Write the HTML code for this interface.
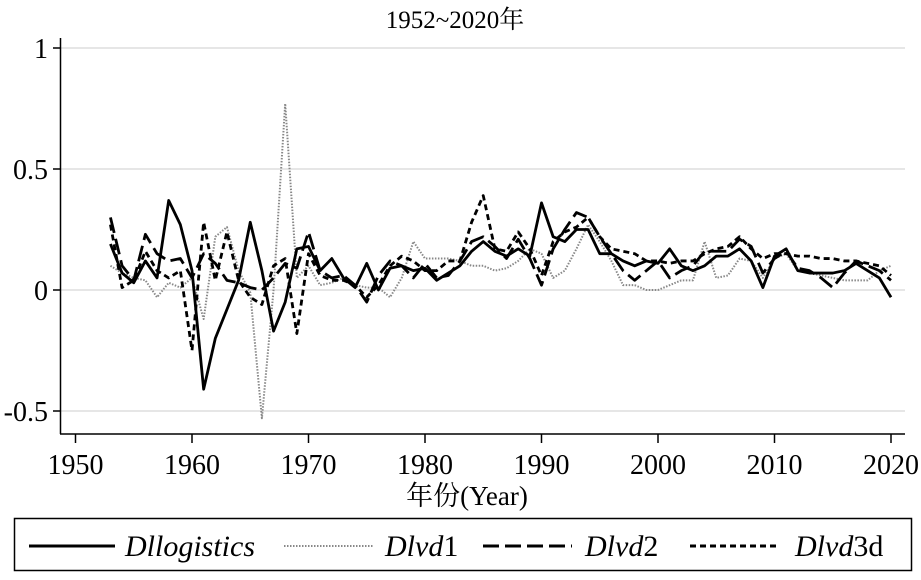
<!DOCTYPE html>
<html><head><meta charset="utf-8"><style>
html,body{margin:0;padding:0;background:#fff}
svg text{font-family:"Liberation Serif","Noto Serif CJK SC",serif;fill:#000}
</style></head><body>
<svg width="921" height="575" xmlns="http://www.w3.org/2000/svg">
<text x="455" y="28" font-size="25" text-anchor="middle">1952~2020年</text>
<g id="grid"></g>
<g id="axes"></g>
<g id="series"></g>
<text x="467" y="505" font-size="27" text-anchor="middle">年份(Year)</text>
<g>
<rect x="14.5" y="518.5" width="897" height="52" fill="none" stroke="#000" stroke-width="1.5"/>
<g><line x1="29" y1="546" x2="115" y2="546" stroke="#000" stroke-width="3"/><text x="125" y="556" font-size="30" font-style="italic">Dllogistics</text></g>
<g><line x1="284" y1="546" x2="373" y2="546" stroke="#777" stroke-width="1.8" stroke-dasharray="1.5,1.5"/><text x="385" y="556" font-size="30"><tspan font-style="italic">Dlvd</tspan>1</text></g>
<g><line x1="483" y1="546" x2="572" y2="546" stroke="#000" stroke-width="3" stroke-dasharray="16,6"/><text x="585" y="556" font-size="30"><tspan font-style="italic">Dlvd</tspan>2</text></g>
<g><line x1="690" y1="546" x2="780" y2="546" stroke="#000" stroke-width="3" stroke-dasharray="6,4"/><text x="795" y="556" font-size="30"><tspan font-style="italic">Dlvd</tspan>3d</text></g>
</g>
</svg>
<script>
const years=[];for(let y=1953;y<=2020;y++)years.push(y);
const xTicks=[1950,1960,1970,1980,1990,2000,2010,2020];
const yTicks=[-0.5,0,0.5,1];
const yTickLabels=["-0.5","0","0.5","1"];
const dllogistics=[0.19,0.07,0.03,0.12,0.05,0.37,0.27,0.08,-0.41,-0.2,-0.08,0.04,0.28,0.08,-0.17,-0.05,0.17,0.18,0.08,0.13,0.05,0.01,0.11,0.0,0.09,0.1,0.08,0.09,0.04,0.07,0.1,0.16,0.2,0.16,0.14,0.17,0.14,0.36,0.22,0.2,0.25,0.25,0.15,0.15,0.12,0.1,0.12,0.11,0.17,0.1,0.08,0.1,0.14,0.14,0.17,0.12,0.01,0.14,0.17,0.08,0.07,0.07,0.07,0.08,0.11,0.08,0.05,-0.03];
const dlvd1=[0.1,0.07,0.05,0.04,-0.03,0.03,0.01,0.05,-0.12,0.22,0.26,0.08,-0.01,-0.53,0.0,0.77,0.05,0.1,0.02,0.03,0.05,0.02,0.01,0.01,-0.03,0.05,0.2,0.13,0.13,0.13,0.12,0.1,0.1,0.08,0.09,0.12,0.17,0.15,0.05,0.08,0.17,0.27,0.2,0.12,0.02,0.02,0.0,0.0,0.02,0.04,0.04,0.2,0.05,0.06,0.13,0.12,0.05,0.13,0.15,0.08,0.07,0.06,0.05,0.04,0.04,0.04,0.08,0.1];
const dlvd2=[0.3,0.1,0.04,0.23,0.15,0.12,0.13,0.05,0.15,0.11,0.04,0.03,0.01,0.0,0.05,0.11,0.09,0.24,0.08,0.05,0.06,0.02,-0.05,0.06,0.12,0.1,0.05,0.11,0.05,0.06,0.12,0.2,0.22,0.18,0.13,0.21,0.13,0.02,0.17,0.25,0.32,0.3,0.22,0.15,0.08,0.04,0.08,0.12,0.05,0.08,0.1,0.16,0.16,0.16,0.21,0.18,0.07,0.13,0.16,0.09,0.08,0.05,0.01,0.07,0.12,0.1,0.08,0.04];
const dlvd3d=[0.27,0.01,0.04,0.16,0.08,0.05,0.08,-0.25,0.28,0.04,0.24,0.04,-0.03,-0.06,0.1,0.13,-0.18,0.15,0.06,0.04,0.04,0.02,-0.03,0.02,0.1,0.14,0.12,0.08,0.08,0.12,0.12,0.28,0.39,0.17,0.16,0.24,0.17,0.06,0.2,0.24,0.26,0.3,0.22,0.17,0.16,0.15,0.12,0.12,0.11,0.12,0.12,0.15,0.17,0.18,0.22,0.17,0.13,0.15,0.15,0.14,0.14,0.13,0.13,0.12,0.12,0.11,0.1,0.06];
const NS="http://www.w3.org/2000/svg";
const xS=y=>75.5+(y-1950)*11.65;
const yS=v=>290-v*242;
function mk(tag,attrs,parent){const e=document.createElementNS(NS,tag);for(const k in attrs)e.setAttribute(k,attrs[k]);parent.appendChild(e);return e;}
const grid=document.getElementById('grid'),axes=document.getElementById('axes'),ser=document.getElementById('series');
yTicks.forEach((v,i)=>{
 const g=mk('line',{x1:61,x2:905,y1:yS(v),y2:yS(v),stroke:'#ddd','stroke-width':1.5},grid);
 
 
 const t=mk('line',{x1:53,x2:61,y1:yS(v),y2:yS(v),stroke:'#000','stroke-width':1.5},axes);
 
 
 const l=mk('text',{x:48,y:yS(v)+10,'font-size':28,'text-anchor':'end'},axes);l.textContent=yTickLabels[i];
 
 
});
xTicks.forEach(v=>{
 const t=mk('line',{x1:xS(v),x2:xS(v),y1:434,y2:443,stroke:'#000','stroke-width':1.5},axes);
 
 
 const l=mk('text',{x:xS(v),y:474,'font-size':28,'text-anchor':'middle'},axes);l.textContent=v;
 
 
});
const ya=mk('line',{x1:60.5,x2:60.5,y1:38,y2:434,stroke:'#000','stroke-width':1.5},axes);


const xa=mk('line',{x1:60,x2:905,y1:434,y2:434,stroke:'#000','stroke-width':1.5},axes);


function draw(vals,name,stroke,w,dash){
 const p=mk('polyline',{points:vals.map((v,i)=>xS(years[i])+','+yS(v)).join(' '),fill:'none',stroke:stroke,'stroke-width':w,'stroke-linejoin':'round'},ser);
 if(dash)p.setAttribute('stroke-dasharray',dash);
 
 
}
draw(dlvd1,'series-dlvd1','#888',2,'1.5,1.5');
draw(dlvd3d,'series-dlvd3d','#000',2.8,'6,4');
draw(dlvd2,'series-dlvd2','#000',2.8,'16,6');
draw(dllogistics,'series-dllogistics','#000',2.8,null);
</script>
</body></html>
